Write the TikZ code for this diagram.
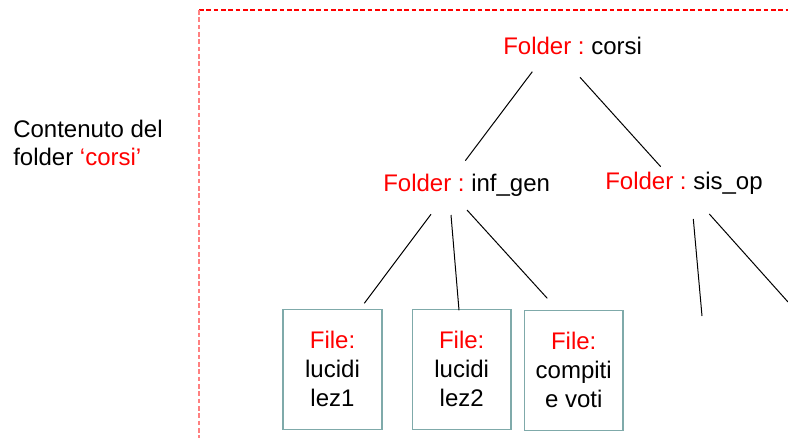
\documentclass[tikz,border=0pt]{standalone}
\usepackage{fontspec}
\setmainfont{Liberation Sans}
\usetikzlibrary{calc}
\definecolor{keyred}{HTML}{FF0000}
\definecolor{keysoft}{HTML}{FF8080}
\definecolor{boxline}{HTML}{7FAAAA}
\frenchspacing
\tikzset{
  folder/.style={anchor=base west, inner sep=0pt, font=\fontsize{18}{21.6}\selectfont},
  filebox/.style={draw=boxline, line width=1.1pt, minimum width=74pt, minimum height=90pt,
    inner sep=0pt, align=center, font=\fontsize{18}{21.75}\selectfont},
  link/.style={draw=black, line width=0.75pt},
  borderline/.style={draw=#1, dash pattern=on 3.5pt off 2pt, line width=1pt},
}
\begin{document}
\begin{tikzpicture}[x=0.75pt, y=-0.75pt]
  \useasboundingbox (0,0) rectangle (788,438);
  % dashed frame round the folder content
  \draw[borderline=keyred] (199,10) -- (788,10);
  \draw[borderline=keysoft] (199,10) -- (199,438);
  % caption on the left
  \node[anchor=north west, inner sep=0pt, align=left, font=\fontsize{18}{20.8}\selectfont]
    (caption) at (13,120) {Contenuto del\\folder \textcolor{keyred}{‘corsi’}};
  % folders
  \node[folder] (corsi) at (503,54.3) {\textcolor{keyred}{Folder :} corsi};
  \node[folder] (infgen) at (383,191.7) {\textcolor{keyred}{Folder :} inf\_gen};
  \node[folder] (sisop) at (605,190) {\textcolor{keyred}{Folder :} sis\_op};
  % files
  \node[filebox] (lez1) at (332.5,369.3) {\textcolor{keyred}{File:}\\lucidi\\lez1};
  \node[filebox] (lez2) at (461.7,369.3) {\textcolor{keyred}{File:}\\lucidi\\lez2};
  \node[filebox] (voti) at (573.7,370.3) {\textcolor{keyred}{File:}\\compiti\\e voti};
  % children of sis_op lie outside the frame
  \coordinate (sisop-a) at (702,316);
  \coordinate (sisop-b) at (788,302);
  % tree links
  \draw[link] ([shift={(29.3,17.4)}]corsi.base west) -- ([shift={(82.3,-31)}]infgen.base west);
  \draw[link] ([shift={(77,23)}]corsi.base west) -- ([shift={(55.7,-23.3)}]sisop.base west);
  \draw[link] ([shift={(48,22.6)}]infgen.base west) -- ([shift={(31.8,-5.3)}]lez1.north);
  \draw[link] ([shift={(68,23.3)}]infgen.base west) -- ([shift={(-2.7,1.7)}]lez2.north);
  \draw[link] ([shift={(84,18.3)}]infgen.base west) -- ([shift={(-26.4,-11.2)}]voti.north);
  \draw[link] ([shift={(88.3,29)}]sisop.base west) -- (sisop-a);
  \draw[link] ([shift={(104.3,24)}]sisop.base west) -- (sisop-b);
\end{tikzpicture}
\end{document}
